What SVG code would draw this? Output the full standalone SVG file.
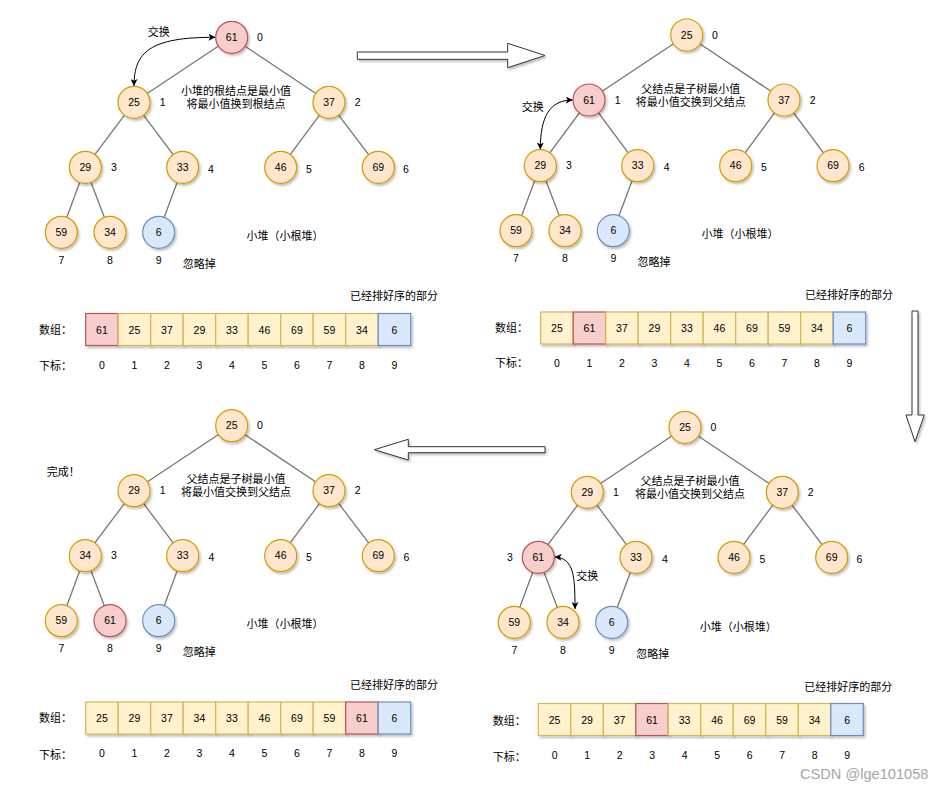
<svg xmlns="http://www.w3.org/2000/svg" width="944" height="790" viewBox="0 0 944 790">
<defs>
<filter id="sh" x="-30%" y="-30%" width="160%" height="160%"><feDropShadow dx="1.5" dy="2" stdDeviation="1" flood-color="#000" flood-opacity="0.25"/></filter>
<marker id="ah" viewBox="0 0 10 10" refX="10" refY="5" markerWidth="7" markerHeight="7" markerUnits="userSpaceOnUse" orient="auto-start-reverse"><path d="M0,0 L10,5 L0,10 L2.5,5 Z" fill="#000"/></marker>
<style>
text{font-family:"Liberation Sans","Noto Sans CJK SC",sans-serif;fill:#000}
.n text,.c text,.ix{font-size:10.5px;text-anchor:middle}
.t{font-size:11px;text-anchor:middle}
.ts{font-size:11px}
.n circle{filter:url(#sh);stroke-width:1.2}
.o{fill:#ffe6cc;stroke:#d79b00}
.r{fill:#f8cecc;stroke:#b85450}
.b{fill:#dae8fc;stroke:#6c8ebf}
.y{fill:#fff2cc;stroke:#d6b656}
.c rect{filter:url(#sh);stroke-width:1.2}
.e line{stroke:#777;stroke-width:1.3}
.cur{fill:none;stroke:#000;stroke-width:1}
.blk{fill:#fff;stroke:#333;stroke-width:1;filter:url(#sh)}
</style>
</defs>
<rect width="944" height="790" fill="#fff"/>

<!-- connectors -->
<g id="connectors">
<g class="e">
<line x1="231.7" y1="37.3" x2="134" y2="102.3"/><line x1="231.7" y1="37.3" x2="329" y2="102.3"/>
<line x1="134" y1="102.3" x2="85.3" y2="167.3"/><line x1="134" y1="102.3" x2="182.7" y2="167.3"/>
<line x1="329" y1="102.3" x2="280.7" y2="167.3"/><line x1="329" y1="102.3" x2="378.3" y2="167.3"/>
<line x1="85.3" y1="167.3" x2="61.3" y2="232.3"/><line x1="85.3" y1="167.3" x2="110" y2="232.3"/>
<line x1="182.7" y1="167.3" x2="158.7" y2="232.3"/>

<line x1="686.7" y1="35" x2="589" y2="100"/><line x1="686.7" y1="35" x2="784" y2="100"/>
<line x1="589" y1="100" x2="540.3" y2="165.7"/><line x1="589" y1="100" x2="637.7" y2="165.7"/>
<line x1="784" y1="100" x2="735.7" y2="165.7"/><line x1="784" y1="100" x2="833" y2="165.7"/>
<line x1="540.3" y1="165.7" x2="516" y2="230.7"/><line x1="540.3" y1="165.7" x2="565" y2="230.7"/>
<line x1="637.7" y1="165.7" x2="613.3" y2="230.7"/>

<line x1="231.7" y1="425.7" x2="134" y2="490.7"/><line x1="231.7" y1="425.7" x2="329" y2="490.7"/>
<line x1="134" y1="490.7" x2="85.3" y2="555.7"/><line x1="134" y1="490.7" x2="182.7" y2="555.7"/>
<line x1="329" y1="490.7" x2="280.7" y2="555.7"/><line x1="329" y1="490.7" x2="378.3" y2="555.7"/>
<line x1="85.3" y1="555.7" x2="61.3" y2="620.7"/><line x1="85.3" y1="555.7" x2="110" y2="620.7"/>
<line x1="182.7" y1="555.7" x2="158.7" y2="620.7"/>

<line x1="685" y1="427.3" x2="587.3" y2="492.3"/><line x1="685" y1="427.3" x2="782.3" y2="492.3"/>
<line x1="587.3" y1="492.3" x2="538.3" y2="557.3"/><line x1="587.3" y1="492.3" x2="636" y2="557.3"/>
<line x1="782.3" y1="492.3" x2="734" y2="557.3"/><line x1="782.3" y1="492.3" x2="831.7" y2="557.3"/>
<line x1="538.3" y1="557.3" x2="514.3" y2="622.3"/><line x1="538.3" y1="557.3" x2="563" y2="622.3"/>
<line x1="636" y1="557.3" x2="611.7" y2="622.3"/>
</g>
<path class="cur" d="M134,86 C134,52 150,37 215.5,37.3" marker-start="url(#ah)" marker-end="url(#ah)"/>
<path class="cur" d="M540.3,149.5 C540.3,116 550,100 572.8,100" marker-start="url(#ah)" marker-end="url(#ah)"/>
<path class="cur" d="M554.6,557 C574,558 575,576 575,609" marker-start="url(#ah)" marker-end="url(#ah)"/>
<polygon class="blk" points="357.3,52 507.7,52 507.7,43.3 545,55.5 507.7,67.7 507.7,59.3 357.3,59.3"/>
<polygon class="blk" points="912,311 918,311 918,415 924.3,415 915,441.7 906,415 912,415"/>
<polygon class="blk" points="545,446.7 408.3,446.7 408.3,439.3 374.3,449.7 408.3,460 408.3,452.7 545,452.7"/>
</g>

<!-- Panel A -->
<g id="panelA-tree" class="n">
<g id="a0"><circle class="r" cx="231.7" cy="37.3" r="16"/><text x="231.7" y="41">61</text></g>
<g id="a1"><circle class="o" cx="134" cy="102.3" r="16"/><text x="134" y="106">25</text></g>
<g id="a2"><circle class="o" cx="329" cy="102.3" r="16"/><text x="329" y="106">37</text></g>
<g id="a3"><circle class="o" cx="85.3" cy="167.3" r="16"/><text x="85.3" y="171">29</text></g>
<g id="a4"><circle class="o" cx="182.7" cy="167.3" r="16"/><text x="182.7" y="171">33</text></g>
<g id="a5"><circle class="o" cx="280.7" cy="167.3" r="16"/><text x="280.7" y="171">46</text></g>
<g id="a6"><circle class="o" cx="378.3" cy="167.3" r="16"/><text x="378.3" y="171">69</text></g>
<g id="a7"><circle class="o" cx="61.3" cy="232.3" r="16"/><text x="61.3" y="236">59</text></g>
<g id="a8"><circle class="o" cx="110" cy="232.3" r="16"/><text x="110" y="236">34</text></g>
<g id="a9"><circle class="b" cx="158.7" cy="232.3" r="16"/><text x="158.7" y="236">6</text></g>
</g>
<g id="panelA-labels">
<text class="ix" x="260" y="41">0</text><text class="ix" x="162.7" y="106">1</text><text class="ix" x="357.7" y="106">2</text>
<text class="ix" x="114" y="171">3</text><text class="ix" x="211" y="173">4</text><text class="ix" x="309" y="173">5</text><text class="ix" x="406" y="173">6</text>
<text class="ix" x="61.3" y="264">7</text><text class="ix" x="110" y="264">8</text><text class="ix" x="158.7" y="264">9</text>
<text class="t" x="158.7" y="35.5">交换</text>
<text class="t" x="236" y="94.5">小堆的根结点是最小值</text>
<text class="t" x="236" y="108">将最小值换到根结点</text>
<text class="t" x="285" y="240">小堆（小根堆）</text>
<text class="t" x="199.3" y="268">忽略掉</text>
<text class="t" x="394" y="300">已经排好序的部分</text>
<text class="ts" x="39" y="334">数组：</text>
<text class="ts" x="39" y="370">下标：</text>
</g>
<g id="panelA-array" class="c">
<rect class="r" x="85.7" y="313.5" width="32.5" height="32"/><text x="101.95" y="333.5">61</text>
<rect class="y" x="118.2" y="313.5" width="32.5" height="32"/><text x="134.45" y="333.5">25</text>
<rect class="y" x="150.7" y="313.5" width="32.5" height="32"/><text x="166.95" y="333.5">37</text>
<rect class="y" x="183.2" y="313.5" width="32.5" height="32"/><text x="199.45" y="333.5">29</text>
<rect class="y" x="215.7" y="313.5" width="32.5" height="32"/><text x="231.95" y="333.5">33</text>
<rect class="y" x="248.2" y="313.5" width="32.5" height="32"/><text x="264.45" y="333.5">46</text>
<rect class="y" x="280.7" y="313.5" width="32.5" height="32"/><text x="296.95" y="333.5">69</text>
<rect class="y" x="313.2" y="313.5" width="32.5" height="32"/><text x="329.45" y="333.5">59</text>
<rect class="y" x="345.7" y="313.5" width="32.5" height="32"/><text x="361.95" y="333.5">34</text>
<rect class="b" x="378.2" y="313.5" width="32.5" height="32"/><text x="394.45" y="333.5">6</text>
<text x="101.95" y="369">0</text><text x="134.45" y="369">1</text><text x="166.95" y="369">2</text><text x="199.45" y="369">3</text><text x="231.95" y="369">4</text>
<text x="264.45" y="369">5</text><text x="296.95" y="369">6</text><text x="329.45" y="369">7</text><text x="361.95" y="369">8</text><text x="394.45" y="369">9</text>
</g>

<!-- Panel B -->
<g id="panelB-tree" class="n">
<g id="b0"><circle class="o" cx="686.7" cy="35" r="16"/><text x="686.7" y="38.7">25</text></g>
<g id="b1"><circle class="r" cx="589" cy="100" r="16"/><text x="589" y="103.7">61</text></g>
<g id="b2"><circle class="o" cx="784" cy="100" r="16"/><text x="784" y="103.7">37</text></g>
<g id="b3"><circle class="o" cx="540.3" cy="165.7" r="16"/><text x="540.3" y="169.4">29</text></g>
<g id="b4"><circle class="o" cx="637.7" cy="165.7" r="16"/><text x="637.7" y="169.4">33</text></g>
<g id="b5"><circle class="o" cx="735.7" cy="165.7" r="16"/><text x="735.7" y="169.4">46</text></g>
<g id="b6"><circle class="o" cx="833" cy="165.7" r="16"/><text x="833" y="169.4">69</text></g>
<g id="b7"><circle class="o" cx="516" cy="230.7" r="16"/><text x="516" y="234.4">59</text></g>
<g id="b8"><circle class="o" cx="565" cy="230.7" r="16"/><text x="565" y="234.4">34</text></g>
<g id="b9"><circle class="b" cx="613.3" cy="230.7" r="16"/><text x="613.3" y="234.4">6</text></g>
</g>
<g id="panelB-labels">
<text class="ix" x="715" y="38.7">0</text><text class="ix" x="617.7" y="103.7">1</text><text class="ix" x="812.7" y="103.7">2</text>
<text class="ix" x="569" y="169">3</text><text class="ix" x="666.7" y="171.4">4</text><text class="ix" x="764" y="171.4">5</text><text class="ix" x="861.7" y="171.4">6</text>
<text class="ix" x="516" y="262">7</text><text class="ix" x="565" y="262">8</text><text class="ix" x="613.3" y="262">9</text>
<text class="t" x="532.7" y="110.5">交换</text>
<text class="t" x="690.7" y="93">父结点是子树最小值</text>
<text class="t" x="690.7" y="105.5">将最小值交换到父结点</text>
<text class="t" x="740" y="238">小堆（小根堆）</text>
<text class="t" x="654" y="266">忽略掉</text>
<text class="t" x="849" y="299">已经排好序的部分</text>
<text class="ts" x="495" y="332.3">数组：</text>
<text class="ts" x="495" y="367.3">下标：</text>
</g>
<g id="panelB-array" class="c">
<rect class="y" x="540.7" y="312" width="32.5" height="32"/><text x="556.95" y="332">25</text>
<rect class="r" x="573.2" y="312" width="32.5" height="32"/><text x="589.45" y="332">61</text>
<rect class="y" x="605.7" y="312" width="32.5" height="32"/><text x="621.95" y="332">37</text>
<rect class="y" x="638.2" y="312" width="32.5" height="32"/><text x="654.45" y="332">29</text>
<rect class="y" x="670.7" y="312" width="32.5" height="32"/><text x="686.95" y="332">33</text>
<rect class="y" x="703.2" y="312" width="32.5" height="32"/><text x="719.45" y="332">46</text>
<rect class="y" x="735.7" y="312" width="32.5" height="32"/><text x="751.95" y="332">69</text>
<rect class="y" x="768.2" y="312" width="32.5" height="32"/><text x="784.45" y="332">59</text>
<rect class="y" x="800.7" y="312" width="32.5" height="32"/><text x="816.95" y="332">34</text>
<rect class="b" x="833.2" y="312" width="32.5" height="32"/><text x="849.45" y="332">6</text>
<text x="556.95" y="366.7">0</text><text x="589.45" y="366.7">1</text><text x="621.95" y="366.7">2</text><text x="654.45" y="366.7">3</text><text x="686.95" y="366.7">4</text>
<text x="719.45" y="366.7">5</text><text x="751.95" y="366.7">6</text><text x="784.45" y="366.7">7</text><text x="816.95" y="366.7">8</text><text x="849.45" y="366.7">9</text>
</g>

<!-- Panel C (bottom-left) -->
<g id="panelC-tree" class="n">
<g id="c0"><circle class="o" cx="231.7" cy="425.7" r="16"/><text x="231.7" y="429.4">25</text></g>
<g id="c1"><circle class="o" cx="134" cy="490.7" r="16"/><text x="134" y="494.4">29</text></g>
<g id="c2"><circle class="o" cx="329" cy="490.7" r="16"/><text x="329" y="494.4">37</text></g>
<g id="c3"><circle class="o" cx="85.3" cy="555.7" r="16"/><text x="85.3" y="559.4">34</text></g>
<g id="c4"><circle class="o" cx="182.7" cy="555.7" r="16"/><text x="182.7" y="559.4">33</text></g>
<g id="c5"><circle class="o" cx="280.7" cy="555.7" r="16"/><text x="280.7" y="559.4">46</text></g>
<g id="c6"><circle class="o" cx="378.3" cy="555.7" r="16"/><text x="378.3" y="559.4">69</text></g>
<g id="c7"><circle class="o" cx="61.3" cy="620.7" r="16"/><text x="61.3" y="624.4">59</text></g>
<g id="c8"><circle class="r" cx="110" cy="620.7" r="16"/><text x="110" y="624.4">61</text></g>
<g id="c9"><circle class="b" cx="158.7" cy="620.7" r="16"/><text x="158.7" y="624.4">6</text></g>
</g>
<g id="panelC-labels">
<text class="ix" x="260" y="429.4">0</text><text class="ix" x="162.7" y="494.4">1</text><text class="ix" x="357.7" y="494.4">2</text>
<text class="ix" x="114" y="559.4">3</text><text class="ix" x="211.3" y="561.4">4</text><text class="ix" x="309" y="561.4">5</text><text class="ix" x="406.3" y="561.4">6</text>
<text class="ix" x="61.3" y="652">7</text><text class="ix" x="110" y="652">8</text><text class="ix" x="158.7" y="652">9</text>
<text class="ts" x="46.7" y="475.5">完成！</text>
<text class="t" x="236" y="483">父结点是子树最小值</text>
<text class="t" x="236" y="496">将最小值交换到父结点</text>
<text class="t" x="285" y="628">小堆（小根堆）</text>
<text class="t" x="199.3" y="656">忽略掉</text>
<text class="t" x="394" y="689">已经排好序的部分</text>
<text class="ts" x="39" y="722.3">数组：</text>
<text class="ts" x="39" y="759">下标：</text>
</g>
<g id="panelC-array" class="c">
<rect class="y" x="85.7" y="702" width="32.5" height="32"/><text x="101.95" y="722">25</text>
<rect class="y" x="118.2" y="702" width="32.5" height="32"/><text x="134.45" y="722">29</text>
<rect class="y" x="150.7" y="702" width="32.5" height="32"/><text x="166.95" y="722">37</text>
<rect class="y" x="183.2" y="702" width="32.5" height="32"/><text x="199.45" y="722">34</text>
<rect class="y" x="215.7" y="702" width="32.5" height="32"/><text x="231.95" y="722">33</text>
<rect class="y" x="248.2" y="702" width="32.5" height="32"/><text x="264.45" y="722">46</text>
<rect class="y" x="280.7" y="702" width="32.5" height="32"/><text x="296.95" y="722">69</text>
<rect class="y" x="313.2" y="702" width="32.5" height="32"/><text x="329.45" y="722">59</text>
<rect class="r" x="345.7" y="702" width="32.5" height="32"/><text x="361.95" y="722">61</text>
<rect class="b" x="378.2" y="702" width="32.5" height="32"/><text x="394.45" y="722">6</text>
<text x="101.95" y="756.7">0</text><text x="134.45" y="756.7">1</text><text x="166.95" y="756.7">2</text><text x="199.45" y="756.7">3</text><text x="231.95" y="756.7">4</text>
<text x="264.45" y="756.7">5</text><text x="296.95" y="756.7">6</text><text x="329.45" y="756.7">7</text><text x="361.95" y="756.7">8</text><text x="394.45" y="756.7">9</text>
</g>

<!-- Panel D (bottom-right) -->
<g id="panelD-tree" class="n">
<g id="d0"><circle class="o" cx="685" cy="427.3" r="16"/><text x="685" y="431">25</text></g>
<g id="d1"><circle class="o" cx="587.3" cy="492.3" r="16"/><text x="587.3" y="496">29</text></g>
<g id="d2"><circle class="o" cx="782.3" cy="492.3" r="16"/><text x="782.3" y="496">37</text></g>
<g id="d3"><circle class="r" cx="538.3" cy="557.3" r="16"/><text x="538.3" y="561">61</text></g>
<g id="d4"><circle class="o" cx="636" cy="557.3" r="16"/><text x="636" y="561">33</text></g>
<g id="d5"><circle class="o" cx="734" cy="557.3" r="16"/><text x="734" y="561">46</text></g>
<g id="d6"><circle class="o" cx="831.7" cy="557.3" r="16"/><text x="831.7" y="561">69</text></g>
<g id="d7"><circle class="o" cx="514.3" cy="622.3" r="16"/><text x="514.3" y="626">59</text></g>
<g id="d8"><circle class="o" cx="563" cy="622.3" r="16"/><text x="563" y="626">34</text></g>
<g id="d9"><circle class="b" cx="611.7" cy="622.3" r="16"/><text x="611.7" y="626">6</text></g>
</g>
<g id="panelD-labels">
<text class="ix" x="713.3" y="431">0</text><text class="ix" x="616" y="496">1</text><text class="ix" x="810.7" y="496">2</text>
<text class="ix" x="510" y="561">3</text><text class="ix" x="665" y="563">4</text><text class="ix" x="762.3" y="563">5</text><text class="ix" x="859.3" y="563">6</text>
<text class="ix" x="514.3" y="654">7</text><text class="ix" x="563" y="654">8</text><text class="ix" x="611.7" y="654">9</text>
<text class="t" x="587.3" y="580">交换</text>
<text class="t" x="690" y="485">父结点是子树最小值</text>
<text class="t" x="690" y="498">将最小值交换到父结点</text>
<text class="t" x="738.3" y="630.5">小堆（小根堆）</text>
<text class="t" x="652.7" y="658">忽略掉</text>
<text class="t" x="848.3" y="690.5">已经排好序的部分</text>
<text class="ts" x="492.7" y="724.5">数组：</text>
<text class="ts" x="492.7" y="760.5">下标：</text>
</g>
<g id="panelD-array" class="c">
<rect class="y" x="538.3" y="703.5" width="32.5" height="32"/><text x="554.55" y="723.5">25</text>
<rect class="y" x="570.8" y="703.5" width="32.5" height="32"/><text x="587.05" y="723.5">29</text>
<rect class="y" x="603.3" y="703.5" width="32.5" height="32"/><text x="619.55" y="723.5">37</text>
<rect class="r" x="635.8" y="703.5" width="32.5" height="32"/><text x="652.05" y="723.5">61</text>
<rect class="y" x="668.3" y="703.5" width="32.5" height="32"/><text x="684.55" y="723.5">33</text>
<rect class="y" x="700.8" y="703.5" width="32.5" height="32"/><text x="717.05" y="723.5">46</text>
<rect class="y" x="733.3" y="703.5" width="32.5" height="32"/><text x="749.55" y="723.5">69</text>
<rect class="y" x="765.8" y="703.5" width="32.5" height="32"/><text x="782.05" y="723.5">59</text>
<rect class="y" x="798.3" y="703.5" width="32.5" height="32"/><text x="814.55" y="723.5">34</text>
<rect class="b" x="830.8" y="703.5" width="32.5" height="32"/><text x="847.05" y="723.5">6</text>
<text x="554.55" y="759">0</text><text x="587.05" y="759">1</text><text x="619.55" y="759">2</text><text x="652.05" y="759">3</text><text x="684.55" y="759">4</text>
<text x="717.05" y="759">5</text><text x="749.55" y="759">6</text><text x="782.05" y="759">7</text><text x="814.55" y="759">8</text><text x="847.05" y="759">9</text>
</g>

<text id="watermark" x="800" y="778.5" style="font-size:14.6px;fill:#a6a6a6">CSDN @lge101058</text>
</svg>
